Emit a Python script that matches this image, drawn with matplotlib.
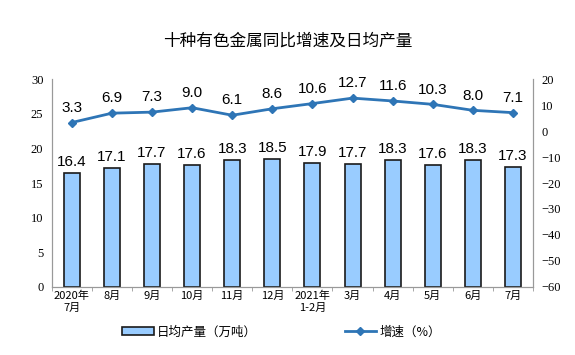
import matplotlib
matplotlib.use('Agg')
import matplotlib.pyplot as plt
import numpy as np

plt.rcParams['font.family'] = ['Noto Sans CJK SC', 'DejaVu Sans']

months = ['2020年\n7月', '8月', '9月', '10月', '11月', '12月', '2021年\n1-2月',
          '3月', '4月', '5月', '6月', '7月']
output = [16.4, 17.1, 17.7, 17.6, 18.3, 18.5, 17.9, 17.7, 18.3, 17.6, 18.3, 17.3]
growth = [3.3, 6.9, 7.3, 9.0, 6.1, 8.6, 10.6, 12.7, 11.6, 10.3, 8.0, 7.1]

fig = plt.figure(figsize=(5.75, 3.55), dpi=100)
ax = fig.add_axes([0.090, 0.192, 0.837, 0.585])
ax2 = ax.twinx()

x = np.arange(len(months))
bars = ax.bar(x, output, width=0.4, color='#99CCFF', edgecolor='#1a1a1a', linewidth=1.2,
              label='日均产量（万吨）', zorder=2)
for xi, v in zip(x, output):
    ax.text(xi, v + 0.6, f'{v:.1f}', ha='center', va='bottom', fontsize=11,
            family='Liberation Sans')

line, = ax2.plot(x, growth, color='#2E75B6', linewidth=2, marker='D', markersize=4,
                 label='增速（%）', zorder=3)
for xi, v in zip(x, growth):
    ax2.text(xi, v + 3, f'{v:.1f}', ha='center', va='bottom', fontsize=11,
             family='Liberation Sans')

ax.set_xlim(-0.5, len(months) - 0.5)
ax.set_ylim(0, 30)
ax.set_yticks(np.arange(0, 31, 5))
ax2.set_ylim(-60, 20)
ax2.set_yticks(np.arange(-60, 21, 10))

ax.set_xticks(x)
ax.set_xticklabels(months, fontsize=8)
ax.set_xticks(np.arange(-0.5, len(months), 1), minor=True)
ax.tick_params(axis='x', which='major', length=0, pad=3)
ax.tick_params(axis='x', which='minor', length=3, color='#999999')

for a in (ax, ax2):
    a.spines['top'].set_visible(False)
    for s in ('left', 'right', 'bottom'):
        a.spines[s].set_color('#999999')
    for lab in a.get_yticklabels():
        lab.set_family('Liberation Serif')
        lab.set_fontsize(9)
ax.tick_params(axis='y', length=0, pad=6)
ax2.tick_params(axis='y', length=0, pad=6)

fig.text(0.5, 0.885, '十种有色金属同比增速及日均产量', ha='center', va='center',
         fontsize=12, fontweight='medium')

fig.legend(handles=[bars, line], loc='center', bbox_to_anchor=(0.49, 0.065), ncol=2,
           frameon=False, fontsize=9, columnspacing=7, handlelength=2.5,
           handleheight=0.5, handletextpad=0.3)

fig.savefig('out.png', dpi=100)
